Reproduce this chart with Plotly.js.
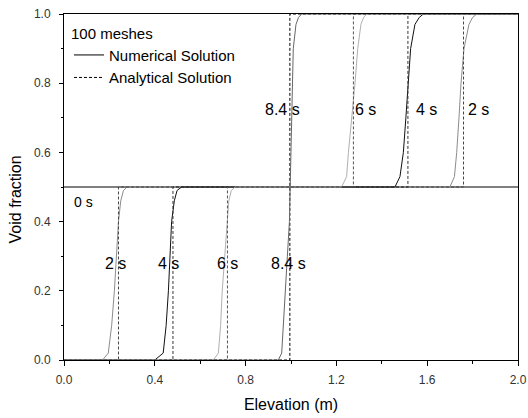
<!DOCTYPE html>
<html>
<head>
<meta charset="utf-8">
<script src="https://cdn.plot.ly/plotly-3.0.1.min.js"></script>
<style>html,body{margin:0;padding:0;background:#fff;}#chart{width:528px;height:418px;}</style>
</head>
<body>
<div id="chart"></div>
<script>
// ---- data ----
// 0 s initial profile
const x0s = [0, 2.0];
const y0s = [0.5, 0.5];

// numerical solutions (elevation, void fraction)
const xNum2 = [0, 0.17, 0.195, 0.21, 0.222, 0.232, 0.24, 0.25, 0.262, 0.278, 1.70, 1.72, 1.73, 1.74, 1.749, 1.762, 1.784, 1.80, 1.818, 2.0];
const yNum2 = [0, 0, 0.02, 0.1, 0.2, 0.3, 0.4, 0.46, 0.49, 0.5, 0.5, 0.53, 0.6, 0.7, 0.8, 0.9, 0.97, 0.99, 1.0, 1.0];

const xNum4 = [0, 0.40, 0.437, 0.45, 0.46, 0.467, 0.474, 0.486, 0.498, 0.518, 1.458, 1.48, 1.495, 1.506, 1.517, 1.527, 1.546, 1.565, 1.583, 2.0];
const yNum4 = [0, 0, 0.02, 0.1, 0.2, 0.3, 0.4, 0.46, 0.49, 0.5, 0.5, 0.53, 0.6, 0.7, 0.8, 0.9, 0.97, 0.99, 1.0, 1.0];

const xNum6 = [0, 0.658, 0.68, 0.69, 0.697, 0.707, 0.717, 0.726, 0.737, 0.755, 1.223, 1.245, 1.253, 1.268, 1.282, 1.294, 1.308, 1.32, 1.333, 2.0];
const yNum6 = [0, 0, 0.02, 0.1, 0.2, 0.3, 0.4, 0.46, 0.49, 0.5, 0.5, 0.53, 0.6, 0.7, 0.8, 0.9, 0.97, 0.99, 1.0, 1.0];

const xNum84 = [0, 0.944, 0.959, 0.967, 0.974, 0.984, 0.993, 0.997, 1.0, 1.003, 1.006, 1.01, 1.022, 1.033, 1.047, 2.0];
const yNum84 = [0, 0, 0.02, 0.1, 0.2, 0.3, 0.4, 0.5, 0.6, 0.7, 0.8, 0.9, 0.97, 0.99, 1.0, 1.0];

// analytical solutions (step profiles)
const xAna2 = [0, 0.24, 0.24, 1.76, 1.76, 2.0];
const yAna2 = [0, 0, 0.5, 0.5, 1.0, 1.0];
const xAna4 = [0, 0.48, 0.48, 1.515, 1.515, 2.0];
const yAna4 = [0, 0, 0.5, 0.5, 1.0, 1.0];
const xAna6 = [0, 0.72, 0.72, 1.275, 1.275, 2.0];
const yAna6 = [0, 0, 0.5, 0.5, 1.0, 1.0];
const xAna84 = [0, 0.995, 0.995, 2.0];
const yAna84 = [0, 0, 1.0, 1.0];

// time labels
const labelText = ["2 s", "4 s", "6 s", "8.4 s", "8.4 s", "6 s", "4 s", "2 s"];
const labelX = [0.225, 0.461, 0.72, 0.99, 0.962, 1.326, 1.595, 1.828];
const labelY = [0.28, 0.28, 0.28, 0.28, 0.725, 0.725, 0.725, 0.725];

const xTicks = [0, 0.4, 0.8, 1.2, 1.6, 2.0];
const xTickText = ["0.0", "0.4", "0.8", "1.2", "1.6", "2.0"];
const yTicks = [0, 0.2, 0.4, 0.6, 0.8, 1.0];
const yTickText = ["0.0", "0.2", "0.4", "0.6", "0.8", "1.0"];

// ---- traces ----
const FONT = "Liberation Sans, Arial, sans-serif";
function num(x, y, color, name, show) {
  return {x: x, y: y, type: "scatter", mode: "lines", name: name || "",
          showlegend: !!show, hoverinfo: "skip",
          line: {color: color, width: 1}};
}
function ana(x, y, color, name, show) {
  return {x: x, y: y, type: "scatter", mode: "lines", name: name || "",
          showlegend: !!show, hoverinfo: "skip",
          line: {color: color, width: 1, dash: "3px,2px"}};
}
const traces = [
  num(x0s, y0s, "#000000", "Numerical Solution", true),
  ana(xAna84, yAna84, "#000000", "Analytical Solution", true),
  num(xNum2, yNum2, "#8c8c8c"),
  ana(xAna2, yAna2, "#444444"),
  num(xNum4, yNum4, "#111111"),
  ana(xAna4, yAna4, "#333333"),
  num(xNum6, yNum6, "#b0b0b0"),
  ana(xAna6, yAna6, "#555555"),
  num(xNum84, yNum84, "#666666")
];

const annotations = labelText.map((t, i) => ({
  x: labelX[i], y: labelY[i], xref: "x", yref: "y", text: t, showarrow: false,
  font: {family: FONT, size: 16, color: "#000"}, xanchor: "center", yanchor: "middle"
}));
annotations.push({x: 0.035, y: 0.457, xref: "x", yref: "y", text: "0 s", showarrow: false,
  font: {family: FONT, size: 14, color: "#000"}, xanchor: "left", yanchor: "middle"});
annotations.push({x: -0.108, y: 0.464, xref: "paper", yref: "paper", text: "Void fraction",
  showarrow: false, textangle: -90, font: {family: FONT, size: 16, color: "#000"},
  xanchor: "center", yanchor: "middle"});

const layout = {
  width: 528, height: 418,
  margin: {l: 64, r: 10, t: 14, b: 58},
  paper_bgcolor: "#fff", plot_bgcolor: "#fff",
  showlegend: true,
  legend: {x: 0.011, y: 0.985, xanchor: "left", yanchor: "top",
    bgcolor: "rgba(0,0,0,0)", borderwidth: 0,
    font: {family: FONT, size: 15, color: "#000"},
    title: {text: "100 meshes", font: {family: FONT, size: 15, color: "#000"}},
    tracegroupgap: 0},
  xaxis: {range: [0, 2.0], tickvals: xTicks, ticktext: xTickText,
    ticks: "outside", ticklen: 5, tickcolor: "#000", tickwidth: 1,
    minor: {dtick: 0.2, ticks: "outside", ticklen: 3, tickcolor: "#000"},
    showline: true, linecolor: "#000", linewidth: 1, mirror: true,
    showgrid: false, zeroline: false, ticklabelstandoff: 4,
    tickfont: {family: FONT, size: 12, color: "#333"},
    title: {text: "Elevation (m)", font: {family: FONT, size: 16, color: "#000"}, standoff: 12}},
  yaxis: {range: [0, 1.0], tickvals: yTicks, ticktext: yTickText,
    ticks: "outside", ticklen: 4, tickcolor: "#000", tickwidth: 1,
    minor: {dtick: 0.1, ticks: "outside", ticklen: 2, tickcolor: "#000"},
    showline: true, linecolor: "#000", linewidth: 1, mirror: true,
    showgrid: false, zeroline: false, ticklabelstandoff: 6,
    tickfont: {family: FONT, size: 12, color: "#333"}},
  annotations: annotations
};

Plotly.newPlot("chart", traces, layout, {staticPlot: true, displayModeBar: false});
</script>
</body>
</html>
